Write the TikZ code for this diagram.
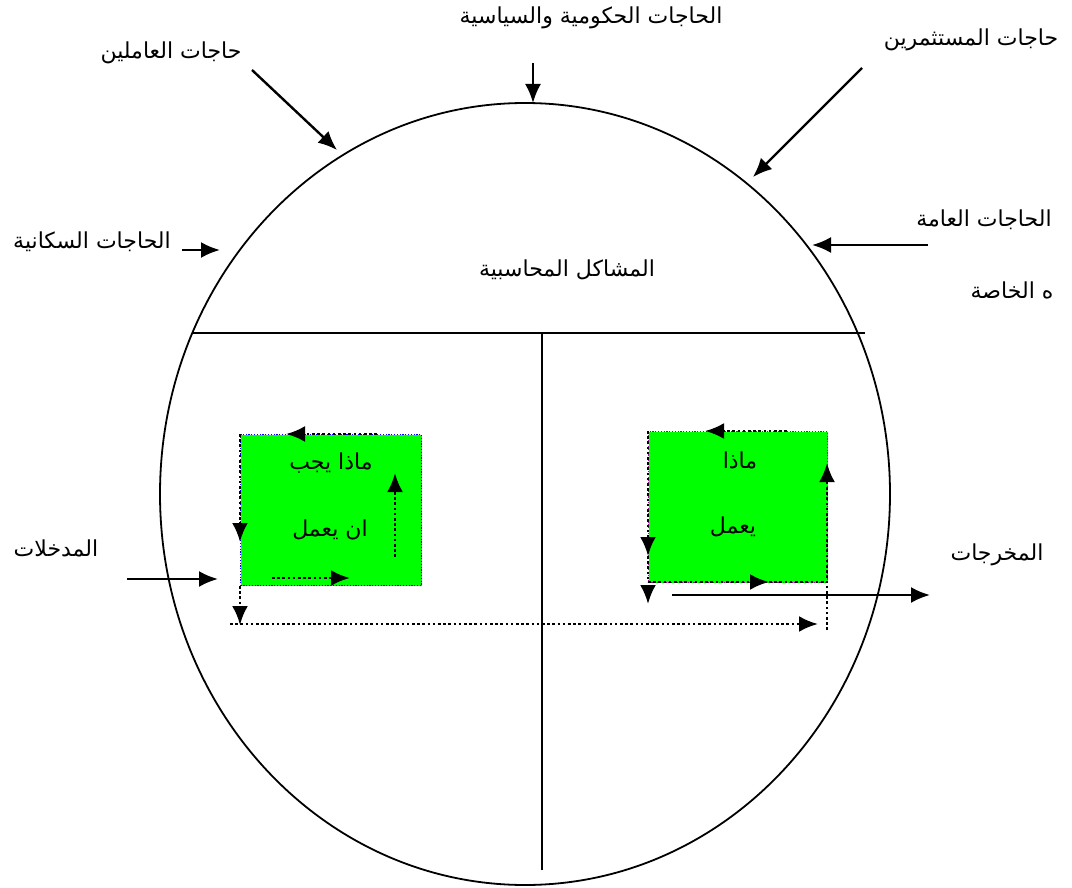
\documentclass[tikz,border=0pt]{standalone}
\usepackage{fontspec}
\TeXXeTstate=1
\newfontfamily\arabicfont[Script=Arabic]{DejaVu Sans}
\usetikzlibrary{arrows.meta,calc}
\begin{document}
\begin{tikzpicture}[x=0.5pt,y=-0.5pt,
  lbl/.style={font=\arabicfont\fontsize{11}{13}\selectfont, inner sep=0pt},
  arr/.style={line width=1.2pt,-{Latex[length=9.5pt,width=8pt]}},
  darr/.style={line width=1.4pt,dash pattern=on 1.3pt off 1.3pt,-{Latex[length=9.5pt,width=8pt]}},
  dln/.style={line width=1.4pt,dash pattern=on 1.3pt off 1.3pt},
  gbox/.style={fill={rgb,255:red,0;green,255;blue,0}, line width=0.5pt, dash pattern=on 0.6pt off 0.8pt, inner sep=0pt, anchor=north west}]
\useasboundingbox (0,0) rectangle (1072,888);
% circle and dividing lines
\draw[line width=0.9pt] (525,494) ellipse [x radius=365, y radius=391];
\coordinate (hl) at (193,333);
\coordinate (hr) at (865,333);
\coordinate (vt) at (542,333);
\coordinate (vb) at (542,870);
\draw[line width=0.9pt] (hl) -- (hr);
\draw[line width=0.9pt] (vt) -- (vb);
% labels
\node[lbl] (workers) at (171,53) {\beginR حاجات العاملين\endR};
\node[lbl] (gov) at (591,18) {\beginR الحاجات الحكومية والسياسية\endR};
\node[lbl] (invest) at (971,40) {\beginR حاجات المستثمرين\endR};
\node[lbl] (pop) at (92,242) {\beginR الحاجات السكانية\endR};
\node[lbl] (gen) at (984,220) {\beginR الحاجات العامة\endR};
\node[lbl] (priv) at (1012,290) {\beginR ه الخاصة\endR};
\node[lbl] (acc) at (567,270) {\beginR المشاكل المحاسبية\endR};
\node[lbl] (inp) at (56,548) {\beginR المدخلات\endR};
\node[lbl] (outp) at (997,555) {\beginR المخرجات\endR};
% external arrows
\coordinate (w1) at (252,70);  \coordinate (w2) at (337,150);
\coordinate (g1) at (533,63);  \coordinate (g2) at (533,103);
\coordinate (i1) at (862,68);  \coordinate (i2) at (753,177);
\coordinate (p1) at (182,250); \coordinate (p2) at (220,250);
\coordinate (e1) at (928,245); \coordinate (e2) at (812,245);
\coordinate (n1) at (127,579); \coordinate (n2) at (218,579);
\coordinate (o1) at (672,595); \coordinate (o2) at (930,595);
\draw[arr] (w1) -- (w2);
\draw[arr] (g1) -- (g2);
\draw[arr] (i1) -- (i2);
\draw[arr] (p1) -- (p2);
\draw[arr] (e1) -- (e2);
\draw[arr] (n1) -- (n2);
% green boxes
\node[gbox, draw=blue, minimum width=90.5pt, minimum height=75.5pt] (lb) at (240,434) {};
\node[gbox, draw={rgb,255:red,160;green,0;blue,160}, minimum width=89.5pt, minimum height=75.5pt] (rb) at (648,431) {};
\node[lbl] (l1) at (331,463) {\beginR ماذا يجب\endR};
\node[lbl] (l2) at (330,530) {\beginR ان يعمل\endR};
\node[lbl] (r1) at (740,460) {\beginR ماذا\endR};
\node[lbl] (r2) at (733,527) {\beginR يعمل\endR};
% dotted flow, left box
\coordinate (a1) at (377,434); \coordinate (a2) at (286,434);
\coordinate (b1) at (240,434); \coordinate (b2) at (240,542);
\coordinate (c1) at (240,586); \coordinate (c2) at (240,625);
\coordinate (d1) at (272,578); \coordinate (d2) at (350,578);
\coordinate (f1) at (395,557); \coordinate (f2) at (395,473);
\coordinate (h1) at (230,624); \coordinate (h2) at (818,624);
\draw[darr] (a1) -- (a2);
\draw[darr] (b1) -- (b2);
\draw[darr] (c1) -- (c2);
\draw[darr] (d1) -- (d2);
\draw[darr] (f1) -- (f2);
\draw[darr] (h1) -- (h2);
% dotted flow, right box
\coordinate (j1) at (787,431); \coordinate (j2) at (705,431);
\coordinate (k1) at (648,431); \coordinate (k2) at (648,556); \coordinate (k3) at (648,582);
\coordinate (m1) at (648,588); \coordinate (m2) at (648,604);
\coordinate (q1) at (648,582); \coordinate (q2) at (769,582); \coordinate (q3) at (827,582);
\coordinate (s1) at (827,630); \coordinate (s2) at (827,463);
\draw[darr] (j1) -- (j2);
\draw[darr] (k1) -- (k2);
\draw[dln] (k2) -- (k3);
\draw[darr] (m1) -- (m2);
\draw[darr] (q1) -- (q2);
\draw[dln] (q2) -- (q3);
\draw[darr] (s1) -- (s2);
\draw[arr] (o1) -- (o2);
\end{tikzpicture}
\end{document}
